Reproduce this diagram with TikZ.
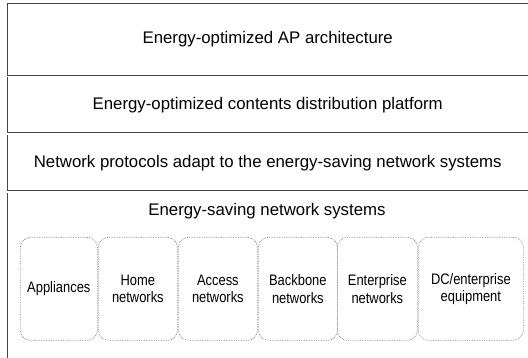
\documentclass[tikz,border=0pt]{standalone}
\usepackage{fontspec}
\setmainfont{Liberation Sans}
\newfontfamily\narrowsf{Liberation Sans}[FakeStretch=0.85]
\usepackage{tikz}
\usetikzlibrary{positioning}
\definecolor{edgegray}{RGB}{70, 70, 70}
\definecolor{boxgray}{RGB}{120, 120, 120}

\begin{document}
\begin{tikzpicture}[x=1pt, y=-1pt,
    layer/.style={minimum width=521pt, inner sep=0pt, anchor=north west, font=\fontsize{16.8}{20}\selectfont},
    edge/.style={draw=edgegray, line width=0.9pt},
    unit/.style={draw=boxgray, densely dotted, line width=0.7pt, rounded corners=10pt, minimum height=103pt, inner sep=1pt, align=center, anchor=north west, font=\narrowsf\fontsize{15.2}{17.5}\selectfont}]
  \useasboundingbox (0, 0) rectangle (528, 358);

  % Layers
  \node[layer, minimum height=72pt] (aparch) at (7, 3) {Energy-optimized AP architecture};
  \node[layer, minimum height=55pt] (cdp) at (7, 77) {Energy-optimized contents distribution platform};
  \node[layer, minimum height=55pt] (proto) at (7, 135) {Network protocols adapt to the energy-saving network systems};
  \node[layer, minimum height=165pt] (esns) at (7, 193) {};
  \node[font=\fontsize{16.8}{20}\selectfont] (esnstitle) at (267, 211) {Energy-saving network systems};

  % Layer edges
  \draw[edge] (aparch.north east) -- (aparch.north west) -- (aparch.south west) -- (aparch.south east);
  \draw[edge] (cdp.north west) -- (cdp.south west) -- (cdp.south east);
  \draw[edge] (proto.north west) -- (proto.south west) -- (proto.south east);
  \draw[edge] (esns.north west) -- (esns.south west);

  % Network system units
  \node[unit, minimum width=77pt] (appl) at (20, 237) {Appliances};
  \node[unit, minimum width=79pt] (home) at (98, 237) {Home\\networks};
  \node[unit, minimum width=79pt] (access) at (178, 237) {Access\\networks};
  \node[unit, minimum width=79pt] (backbone) at (258, 237) {Backbone\\networks};
  \node[unit, minimum width=80pt] (enter) at (337, 237) {Enterprise\\networks};
  \node[unit, minimum width=105pt] (dceq) at (418, 237) {DC/enterprise\\equipment};
\end{tikzpicture}
\end{document}
